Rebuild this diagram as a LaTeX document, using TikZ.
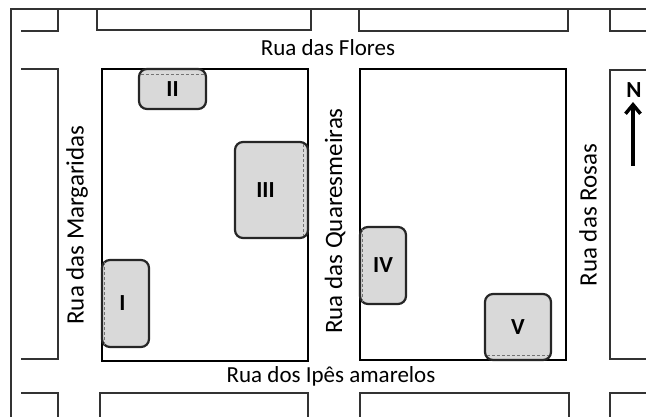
\documentclass[tikz,border=0pt]{standalone}
\usepackage{fontspec}
\setmainfont{Carlito}
\usetikzlibrary{arrows.meta}

\begin{document}
\begin{tikzpicture}
  [x=1pt,y=-1pt,
   street/.style={draw=black!80,line width=1.5pt},
   block/.style={draw=black,line width=2.4pt},
   house/.style={draw=black!85,line width=2.2pt,fill=black!15,rounded corners=8pt,inner sep=0pt,font=\fontsize{23}{27}\selectfont\bfseries},
   front/.style={draw=black!55,densely dashed,line width=1pt},
   streetname/.style={font=\fontsize{23}{27}\selectfont,inner sep=0pt},
   sidename/.style={font=\fontsize{25}{29}\selectfont,inner sep=0pt,rotate=90}]
  \useasboundingbox (0,0) rectangle (646,417);
  % frame
  \draw[street] (11,417) -- (11,9) -- (646,9);
  % top row
  \draw[street] (21,31) -- (58,31) -- (58,9);
  \draw[street] (97,9) -- (97,30) -- (311,30) -- (311,9);
  \draw[street] (359,9) -- (359,31) -- (568,31) -- (568,9);
  \draw[street] (610,9) -- (610,31) -- (646,31);
  % middle row
  \draw[street] (21,69) -- (58,69) -- (58,359) -- (21,359);
  \draw[street] (646,70) -- (610,70) -- (610,359) -- (646,359);
  \draw[block] (102,69) rectangle (308,361);
  \draw[block] (360,69) rectangle (566,360);
  % bottom row
  \draw[street] (21,393) -- (58,393) -- (58,417);
  \draw[street] (100,417) -- (100,393) -- (308,393) -- (308,417);
  \draw[street] (360,417) -- (360,393) -- (569,393) -- (569,417);
  \draw[street] (610,417) -- (610,393) -- (646,393);

  % houses
  \node[house,minimum width=67pt,minimum height=40pt] (II) at (172.5,89) {II};
  \node[house,minimum width=73pt,minimum height=96pt] (III) at (271.5,190) {\hspace*{-12pt}III};
  \node[house,minimum width=47pt,minimum height=87pt] (I) at (125.5,303.5) {\hspace*{-6pt}I};
  \node[house,minimum width=46pt,minimum height=77pt] (IV) at (383,265.5) {IV};
  \node[house,minimum width=66pt,minimum height=66pt] (V) at (518,327) {V};
  \draw[front] ([xshift=3pt,yshift=-7pt]II.north west) -- ([xshift=-3pt,yshift=-7pt]II.north east);
  \draw[front] ([xshift=-6pt,yshift=-3pt]III.north east) -- ([xshift=-6pt,yshift=3pt]III.south east);
  \draw[front] ([xshift=4pt,yshift=-3pt]I.north west) -- ([xshift=4pt,yshift=3pt]I.south west);
  \draw[front] ([xshift=4pt,yshift=-3pt]IV.north west) -- ([xshift=4pt,yshift=3pt]IV.south west);
  \draw[front] ([xshift=3pt,yshift=6pt]V.south west) -- ([xshift=-3pt,yshift=6pt]V.south east);

  % street names
  \node[streetname] (flores) at (328,48) {Rua das Flores};
  \node[streetname] (ipes) at (331,376) {Rua dos Ipês amarelos};
  \node[sidename] (margaridas) at (77,225) {Rua das Margaridas};
  \node[sidename] (quaresmeiras) at (335,221) {Rua das Quaresmeiras};
  \node[sidename] (rosas) at (588,215) {Rua das Rosas};

  % north
  \node[font=\fontsize{23}{27}\selectfont\bfseries,inner sep=0pt] (north) at (634,90) {N};
  \coordinate (tip) at (633,102);
  \coordinate (tail) at (633,166);
  \draw[line width=3.5pt,-{Straight Barb[length=9pt,width=15pt]}] (tail) -- (tip);
\end{tikzpicture}
\end{document}
